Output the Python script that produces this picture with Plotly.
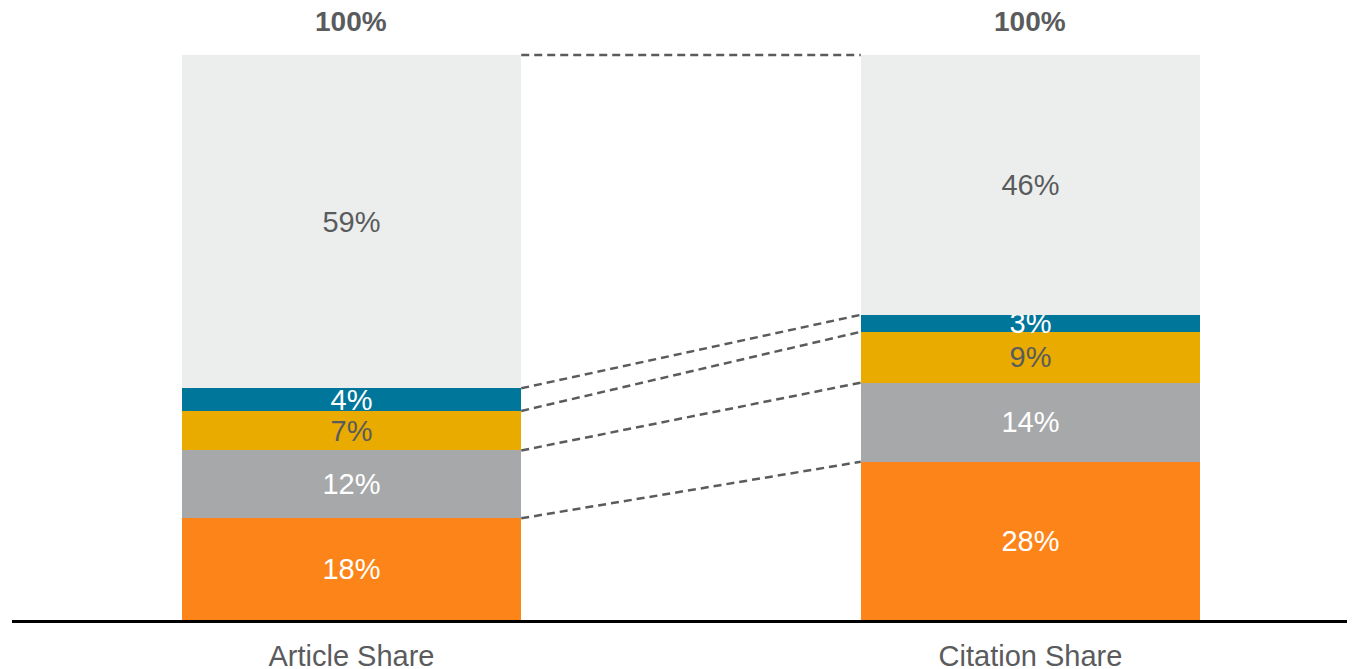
import plotly.graph_objects as go

categories = ["Article Share", "Citation Share"]
segment_names = ["Seg A", "Seg B", "Seg C", "Seg D", "Other"]
segment_values = [
    [18, 28],
    [12, 14],
    [7, 9],
    [4, 3],
    [59, 46],
]
totals = [100, 100]

segment_colors = ["#FD8418", "#A7A8AA", "#E9AB00", "#00769A", "#ECEEED"]
text_colors = ["#FFFFFF", "#FFFFFF", "#5A5B5D", "#FFFFFF", "#5A5B5D"]
FONT = "Liberation Sans, Arial, sans-serif"
DARK = "#5A5B5D"

fig = go.Figure()
for name, vals, color, tcolor in zip(segment_names, segment_values, segment_colors, text_colors):
    fig.add_trace(
        go.Bar(
            x=[0, 1],
            y=vals,
            name=name,
            marker=dict(color=color, line=dict(width=0)),
            text=[f"{v}%" for v in vals],
            textposition="inside",
            insidetextanchor="middle",
            textangle=0,
            textfont=dict(color=tcolor, size=29, family=FONT),
            hoverinfo="skip",
        )
    )

# dashed connectors between segment tops
cum = [0, 0]
for vals in segment_values:
    cum = [cum[0] + vals[0], cum[1] + vals[1]]
    fig.add_trace(
        go.Scatter(
            x=[0.25, 0.75],
            y=cum,
            mode="lines",
            line=dict(color="#5A5B5D", width=2.5, dash="8px,5px"),
            hoverinfo="skip",
        )
    )

for i, t in enumerate(totals):
    fig.add_annotation(
        x=i, y=t, text=f"<b>{t}%</b>", showarrow=False,
        yanchor="middle", yshift=33,
        font=dict(size=28, color=DARK, family=FONT),
    )

# page body adds an 8px offset at top-left
fig.update_layout(
    barmode="stack",
    bargap=0.5,
    showlegend=False,
    width=1347,
    height=669,
    margin=dict(l=4, r=0, t=0, b=57, autoexpand=False),
    plot_bgcolor="white",
    paper_bgcolor="white",
    uniformtext=dict(minsize=29, mode="show"),
    font=dict(family=FONT, color=DARK),
)
fig.update_xaxes(
    range=[-0.5, 1.478],
    tickvals=[0, 1],
    ticktext=categories,
    tickfont=dict(size=29, color=DARK, family=FONT),
    showline=True,
    linecolor="black",
    linewidth=2.5,
    showgrid=False,
    zeroline=False,
    automargin=False,
    ticks="outside",
    ticklen=8,
    tickcolor="rgba(0,0,0,0)",
)
fig.update_yaxes(
    range=[0, 108.3],
    visible=False,
    showgrid=False,
    automargin=False,
)

fig.write_html("out.html")
